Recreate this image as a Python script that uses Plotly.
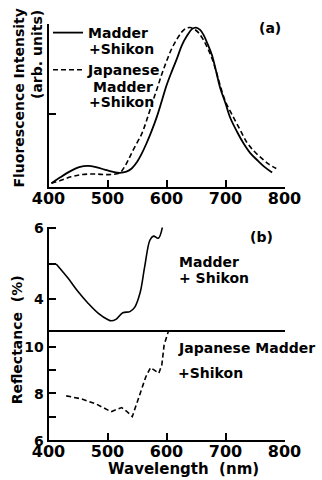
import plotly.graph_objects as go

# ---------------- data ----------------
# (a) fluorescence spectra (normalized, arb. units)
fl_wl_madder = [405, 420, 438, 452, 467, 482, 495, 508, 521, 532, 541, 550, 558, 566, 575, 584,
                592, 600, 609, 618, 626, 635, 643, 650, 657, 663, 670, 677, 684, 691, 700, 708,
                720, 731, 742, 754, 766, 779]
fl_madder = [0.023, 0.06, 0.10, 0.123, 0.131, 0.122, 0.108, 0.095, 0.088, 0.095, 0.115, 0.155,
             0.207, 0.27, 0.35, 0.44, 0.534, 0.63, 0.718, 0.80, 0.88, 0.94, 0.98, 0.99, 0.975,
             0.943, 0.885, 0.82, 0.72, 0.615, 0.52, 0.43, 0.34, 0.268, 0.21, 0.166, 0.125, 0.09]

fl_wl_jap = [405, 420, 438, 452, 467, 482, 495, 508, 521, 528, 535, 545, 558, 566, 575, 584, 592,
             600, 609, 618, 626, 633, 640, 647, 655, 663, 670, 677, 684, 691, 700, 711, 724, 736,
             749, 762, 774, 786]
fl_jap = [0.023, 0.04, 0.063, 0.075, 0.08, 0.08, 0.077, 0.078, 0.088, 0.12, 0.166, 0.24, 0.33,
          0.41, 0.513, 0.61, 0.70, 0.78, 0.86, 0.92, 0.963, 0.985, 0.99, 0.98, 0.955, 0.91, 0.86,
          0.80, 0.72, 0.63, 0.53, 0.45, 0.36, 0.278, 0.22, 0.176, 0.14, 0.115]

# (b) reflectance spectra (%)
rf_wl_madder = [413, 433, 450, 467, 484, 501, 506, 515, 526, 538, 546, 555, 563, 572, 578, 586, 593]
rf_madder = [4.99, 4.59, 4.21, 3.88, 3.60, 3.41, 3.38, 3.43, 3.61, 3.64, 3.76, 4.16, 4.91, 5.67,
             5.78, 5.72, 6.03]

rf_wl_jap = [430, 456, 481, 506, 524, 532, 542, 555, 565, 573, 580, 587, 592, 596, 603]
rf_jap = [7.89, 7.76, 7.54, 7.21, 7.39, 7.24, 7.00, 7.93, 8.71, 9.10, 8.96, 8.86, 9.21, 10.07, 10.64]

x_ticks = [400, 500, 600, 700, 800]
x_tick_text = ["400", "500", "600", "700", "800"]
fl_ticks = [0.453, 1.012]
rf_top_ticks = [4, 5, 6]
rf_top_text = ["4", "", "6"]
rf_bot_ticks = [6, 7, 8, 9, 10]
rf_bot_text = ["6", "", "8", "", "10"]


def b(t):
    return "<b>" + t + "</b>" if t else t


# ---------------- figure ----------------
W, H = 322, 480
FONT = "DejaVu Sans"


def px(xp):
    return xp / W


def py(yp):
    return 1 - yp / H


fig = go.Figure()
fig.add_trace(go.Scatter(x=fl_wl_madder, y=fl_madder, mode="lines", line_shape="spline",
                         line=dict(color="black", width=1.8), legendgroup="m",
                         name=b("Madder"), xaxis="x", yaxis="y"))
fig.add_trace(go.Scatter(x=fl_wl_jap, y=fl_jap, mode="lines", line_shape="spline",
                         line=dict(color="black", width=1.6, dash="5px,3px"), legendgroup="j",
                         name=b("Japanese"), xaxis="x", yaxis="y"))
fig.add_trace(go.Scatter(x=rf_wl_madder, y=rf_madder, mode="lines", line_shape="spline",
                         line=dict(color="black", width=1.6), showlegend=False,
                         xaxis="x2", yaxis="y2"))
fig.add_trace(go.Scatter(x=rf_wl_jap, y=rf_jap, mode="lines",
                         line=dict(color="black", width=1.6, dash="5px,3px"), showlegend=False,
                         xaxis="x3", yaxis="y3"))

xdom = [px(48.5), px(284.5)]
tickfont = dict(family=FONT, size=16, color="black")
ytickfont = dict(family=FONT, size=14, color="black")
common_x = dict(range=[400, 800], domain=xdom, showline=True, linecolor="black", linewidth=2,
                showgrid=False, zeroline=False, ticks="inside", ticklen=7, tickwidth=1.5,
                tickcolor="black", tickvals=x_ticks, ticktext=[b(t) for t in x_tick_text],
                tickfont=tickfont, automargin=False, ticklabelstandoff=-4)
common_y = dict(showline=True, linecolor="black", linewidth=2, showgrid=False, zeroline=False,
                ticks="inside", ticklen=7, tickwidth=1.5, tickcolor="black", tickfont=ytickfont,
                automargin=False)

fig.update_layout(
    width=W, height=H, margin=dict(l=0, r=0, t=0, b=0, autoexpand=False),
    paper_bgcolor="white", plot_bgcolor="white",
    xaxis=dict(anchor="y", **common_x),
    yaxis=dict(anchor="x", domain=[py(187), py(24)], range=[0, 1.012], tickvals=fl_ticks,
               showticklabels=False, **common_y),
    xaxis2=dict(anchor="y2", range=[400, 800], domain=xdom, showline=True, linecolor="black",
                linewidth=2, showgrid=False, zeroline=False, showticklabels=False, ticks="",
                automargin=False),
    yaxis2=dict(anchor="x2", domain=[py(330), py(227.3)], range=[3.12, 6.03],
                tickvals=rf_top_ticks, ticktext=[b(t) for t in rf_top_text], **common_y),
    xaxis3=dict(anchor="y3", **common_x),
    yaxis3=dict(anchor="x3", domain=[py(440), py(330)], range=[6, 10.71],
                tickvals=rf_bot_ticks, ticktext=[b(t) for t in rf_bot_text],
                ticklabelshift=1, **common_y),
    showlegend=True,
    legend=dict(x=px(48), y=py(17), xanchor="left", yanchor="top", valign="top",
                bgcolor="rgba(0,0,0,0)", borderwidth=0, itemwidth=30, traceorder="grouped",
                font=dict(family=FONT, size=14, color="black"),
                tracegroupgap=16),
)

afont = dict(family=FONT, size=14, color="black")


def ann(text, x, y, xanchor="left", angle=0, size=14):
    f = dict(afont)
    f["size"] = size
    fig.add_annotation(text=b(text), x=px(x), y=py(y), xref="paper", yref="paper",
                       xanchor=xanchor, yanchor="middle", showarrow=False, textangle=angle,
                       font=f, borderpad=0)


ann("Fluorescence Intensity", 18, 98.5, xanchor="center", angle=-90)
ann("(arb. units)", 37, 55, xanchor="center", angle=-90)
ann("+Shikon", 88, 48.5)
ann("Madder", 91.5, 87)
ann("+Shikon", 88, 102)
ann("(a)", 270, 28, xanchor="center")
ann("(b)", 261, 237, xanchor="center")
ann("Madder", 178, 262)
ann("+ Shikon", 178, 278)
ann("Japanese Madder", 176.5, 348)
ann("+Shikon", 177, 373)
ann("Reflectance  (%)", 17.3, 340, xanchor="center", angle=-90)
ann("Wavelength  (nm)", 183, 468.5, xanchor="center", size=15)

fig.write_html("out.html")
